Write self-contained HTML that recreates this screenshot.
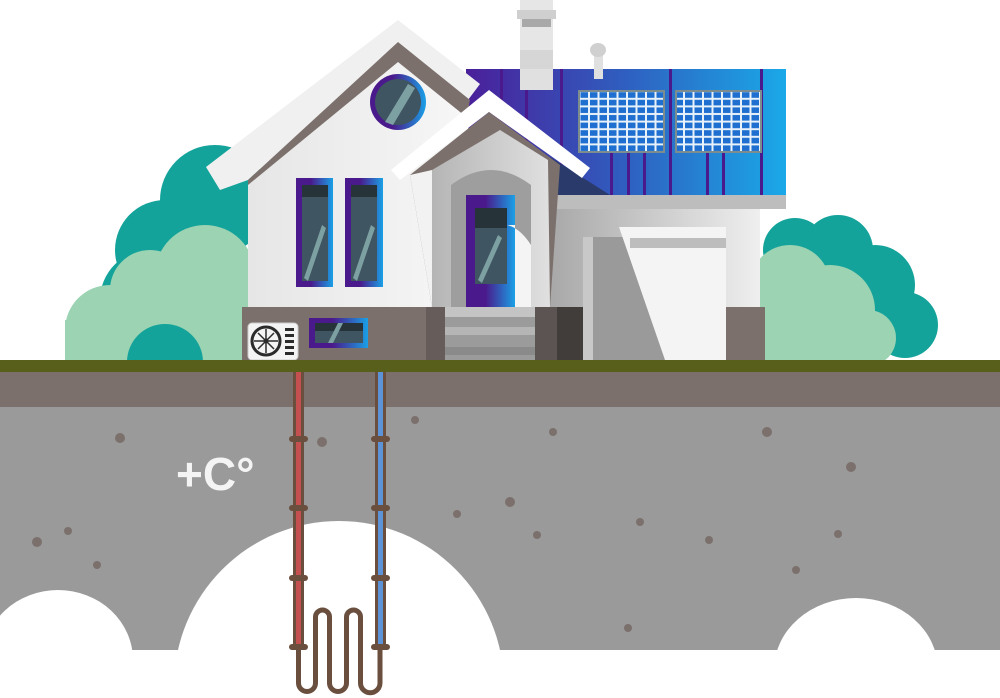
<!DOCTYPE html>
<html><head><style>html,body{margin:0;padding:0;background:#fff;width:1000px;height:698px;overflow:hidden}svg{display:block}</style></head>
<body>
<svg width="1000" height="698" viewBox="0 0 1000 698" xmlns="http://www.w3.org/2000/svg">
<defs>
<linearGradient id="roof" x1="0" x2="1"><stop offset="0" stop-color="#4a1f9a"/><stop offset="0.5" stop-color="#2f5fc0"/><stop offset="1" stop-color="#1aa9e8"/></linearGradient>
<linearGradient id="frame" x1="0" x2="1"><stop offset="0.4" stop-color="#4a1a8c"/><stop offset="1" stop-color="#1aa0e6"/></linearGradient>
<linearGradient id="wall" x1="0" x2="1"><stop offset="0" stop-color="#e6e6e6"/><stop offset="1" stop-color="#f7f7f7"/></linearGradient>
<linearGradient id="front" x1="0" x2="1"><stop offset="0" stop-color="#b5b5b5"/><stop offset="1" stop-color="#e0e0e0"/></linearGradient>
<linearGradient id="rw" x1="0" x2="1"><stop offset="0" stop-color="#a8a8a8"/><stop offset="1" stop-color="#efefef"/></linearGradient>
<pattern id="cells" width="9.5" height="7.6" patternUnits="userSpaceOnUse"><rect width="9.5" height="7.6" fill="#e8f2fa"/><rect x="1" y="1" width="7.5" height="5.6" fill="#1e6fd0"/></pattern>
</defs>
<!-- trees -->
<g fill="#14a39a">
<circle cx="215" cy="200" r="55"/><circle cx="165" cy="250" r="50"/><circle cx="150" cy="300" r="50"/>
<circle cx="795" cy="250" r="32"/><circle cx="838" cy="250" r="35"/><circle cx="875" cy="285" r="40"/><circle cx="905" cy="325" r="33"/><circle cx="830" cy="320" r="45"/>
</g>
<g fill="#9bd3b3">
<circle cx="110" cy="330" r="45"/><circle cx="150" cy="290" r="40"/><circle cx="205" cy="275" r="50"/><circle cx="200" cy="310" r="50"/><rect x="65" y="320" width="185" height="42"/>
<circle cx="790" cy="285" r="40"/><circle cx="830" cy="310" r="45"/><circle cx="868" cy="338" r="28"/><rect x="758" y="300" width="110" height="62"/>
</g>
<circle cx="165" cy="362" r="38" fill="#14a39a"/>
<!-- chimney and vent -->
<rect x="520" y="0" width="33" height="90" fill="#e6e6e6"/><rect x="520" y="50" width="33" height="40" fill="#d6d6d6"/>
<rect x="517" y="10" width="39" height="9" fill="#cfcfcf"/><rect x="522" y="19" width="29" height="8" fill="#a9a9a9"/>
<rect x="594" y="55" width="9" height="24" fill="#e0e0e0"/><ellipse cx="598" cy="50" rx="8" ry="7" fill="#d0d0d0"/>
<!-- blue roof -->
<rect x="466" y="69" width="320" height="126" fill="url(#roof)"/>
<rect x="520" y="69" width="33" height="21" fill="#e0e0e0"/><rect x="594" y="69" width="9" height="10" fill="#e0e0e0"/>
<g fill="#4a1a8c">
<rect x="500" y="69" width="3" height="126"/><rect x="525" y="90" width="3" height="105"/><rect x="560" y="69" width="3" height="126"/>
<rect x="610" y="153" width="3" height="42"/><rect x="627" y="153" width="3" height="42"/><rect x="643" y="153" width="3" height="42"/>
<rect x="669" y="69" width="3" height="126"/><rect x="706" y="153" width="3" height="42"/><rect x="722" y="153" width="3" height="42"/><rect x="760" y="69" width="3" height="126"/>
</g>
<polygon points="550,157 610,195 550,195" fill="#2a3a6a"/>
<rect x="578" y="90" width="87" height="63" fill="#7d8c8c"/><rect x="580" y="92" width="83" height="59" fill="url(#cells)"/>
<rect x="675" y="90" width="87" height="63" fill="#7d8c8c"/><rect x="677" y="92" width="83" height="59" fill="url(#cells)"/>
<!-- right wing -->
<rect x="550" y="195" width="210" height="112" fill="url(#rw)"/>
<rect x="550" y="195" width="236" height="14" fill="#bdbdbd"/>
<rect x="583" y="237" width="143" height="123" fill="#9a9a9a"/>
<rect x="583" y="237" width="10" height="123" fill="#c8c8c8"/>
<polygon points="619,227 726,227 726,360 665,360" fill="#f4f4f4"/>
<rect x="630" y="238" width="96" height="10" fill="#bdbdbd"/>
<rect x="726" y="307" width="39" height="53" fill="#7b706c"/>
<!-- main gable -->
<polygon points="206,167 398,20 480,84 468,100 398,42 248,180 220,190" fill="#f0f0f0"/>
<polygon points="248,180 398,42 470,100 432,307 248,307" fill="#7b706c"/>
<polygon points="248,185 398,62 470,120 432,307 248,307" fill="url(#wall)"/>
<circle cx="398" cy="102" r="28" fill="url(#frame)"/><circle cx="398" cy="102" r="23" fill="#3f5561"/>
<polygon points="385,122 408,84 415,88 393,125" fill="#7da0a3"/>
<!-- windows -->
<g>
<rect x="296" y="178" width="37" height="109" fill="url(#frame)"/><rect x="302" y="185" width="26" height="96" fill="#3f5561"/><rect x="302" y="185" width="26" height="12" fill="#26343a"/>
<polygon points="304,278 322,225 326,228 308,281" fill="#7da0a3"/>
<rect x="345" y="178" width="38" height="109" fill="url(#frame)"/><rect x="351" y="185" width="26" height="96" fill="#3f5561"/><rect x="351" y="185" width="26" height="12" fill="#26343a"/>
<polygon points="353,278 371,225 375,228 357,281" fill="#7da0a3"/>
</g>
<!-- front gable -->
<polygon points="391,170 489,90 590,168 582,178 489,112 400,180" fill="#ffffff"/>
<polygon points="410,175 489,112 560,165 550,307 432,307" fill="#7b706c"/>
<polygon points="432,170 500,130 548,160 550,307 432,307" fill="url(#front)"/>
<polygon points="410,175 432,170 432,307" fill="#f2f2f2"/>
<path d="M451,307 V185 Q491,155 531,185 V307 Z" fill="#9e9e9e"/>
<rect x="466" y="195" width="49" height="112" fill="url(#frame)"/>
<rect x="475" y="208" width="32" height="76" fill="#3f5561"/><rect x="475" y="208" width="32" height="20" fill="#26343a"/>
<path d="M507,225 Q520,228 531,245 V307 H515 V225 Z" fill="#f4f4f4"/>
<polygon points="478,280 498,235 502,238 482,283" fill="#7da0a3"/>
<!-- foundation -->
<rect x="242" y="307" width="185" height="53" fill="#7b706c"/>
<rect x="426" y="307" width="19" height="53" fill="#665d5a"/>
<rect x="445" y="307" width="90" height="53" fill="#9b9b9b"/>
<rect x="445" y="307" width="90" height="10" fill="#c4c4c4"/><rect x="445" y="327" width="90" height="8" fill="#b5b5b5"/><rect x="445" y="347" width="90" height="8" fill="#8a8a8a"/>
<rect x="535" y="307" width="22" height="53" fill="#5c5452"/><rect x="557" y="307" width="26" height="53" fill="#403d3a"/>
<!-- AC -->
<rect x="248" y="323" width="50" height="37" rx="4" fill="#f4f4f4" stroke="#ccc"/>
<circle cx="266" cy="341" r="14" fill="none" stroke="#2b2b2b" stroke-width="3"/>
<g stroke="#2b2b2b" stroke-width="1.5"><line x1="266" y1="329" x2="266" y2="353"/><line x1="254" y1="341" x2="278" y2="341"/><line x1="258" y1="333" x2="274" y2="349"/><line x1="274" y1="333" x2="258" y2="349"/></g>
<circle cx="266" cy="341" r="2.5" fill="#2b2b2b"/>
<g fill="#2b2b2b"><rect x="285" y="328" width="9" height="3"/><rect x="285" y="334" width="9" height="3"/><rect x="285" y="340" width="9" height="3"/><rect x="285" y="346" width="9" height="3"/><rect x="285" y="352" width="9" height="3"/></g>
<rect x="309" y="318" width="59" height="30" fill="url(#frame)"/><rect x="315" y="323" width="48" height="20" fill="#3f5561"/><rect x="315" y="323" width="48" height="8" fill="#26343a"/>
<polygon points="328,343 338,323 343,323 333,343" fill="#7da0a3"/>
<!-- ground -->
<rect x="0" y="360" width="1000" height="12" fill="#585f1a"/>
<rect x="0" y="372" width="1000" height="36" fill="#7b706c"/>
<rect x="0" y="407" width="1000" height="243" fill="#9a9a9a"/>
<rect x="0" y="650" width="1000" height="48" fill="#fff"/>
<circle cx="339" cy="686" r="165" fill="#fff"/>
<ellipse cx="58" cy="660" rx="75" ry="70" fill="#fff"/>
<ellipse cx="856" cy="670" rx="82" ry="72" fill="#fff"/>
<g fill="#7b706c">
<circle cx="120" cy="438" r="5"/><circle cx="322" cy="442" r="5"/><circle cx="415" cy="420" r="4"/><circle cx="553" cy="432" r="4"/><circle cx="767" cy="432" r="5"/><circle cx="851" cy="467" r="5"/><circle cx="510" cy="502" r="5"/><circle cx="457" cy="514" r="4"/><circle cx="537" cy="535" r="4"/><circle cx="640" cy="522" r="4"/><circle cx="709" cy="540" r="4"/><circle cx="838" cy="534" r="4"/><circle cx="68" cy="531" r="4"/><circle cx="37" cy="542" r="5"/><circle cx="97" cy="565" r="4"/><circle cx="796" cy="570" r="4"/><circle cx="628" cy="628" r="4"/>
</g>
<text x="176" y="490" font-family="Liberation Sans, sans-serif" font-weight="bold" font-size="46" fill="#f4f4f4">+C°</text>
<!-- pipes -->
<rect x="293" y="372" width="11" height="278" fill="#6a4f3f"/><rect x="296" y="372" width="5" height="278" fill="#c4504f"/>
<rect x="375" y="372" width="11" height="278" fill="#6a4f3f"/><rect x="378" y="372" width="5" height="278" fill="#5c93d8"/>
<g fill="#6a4f3f">
<rect x="289" y="436" width="19" height="6" rx="3"/><rect x="371" y="436" width="19" height="6" rx="3"/>
<rect x="289" y="505" width="19" height="6" rx="3"/><rect x="371" y="505" width="19" height="6" rx="3"/>
<rect x="289" y="575" width="19" height="6" rx="3"/><rect x="371" y="575" width="19" height="6" rx="3"/>
<rect x="289" y="644" width="19" height="6" rx="3"/><rect x="371" y="644" width="19" height="6" rx="3"/>
</g>
<path d="M298.5,648 V683 A8.5,8.5 0 0 0 315.5,683 V617 A7,7 0 0 1 329.5,617 V683 A8.5,8.5 0 0 0 346.5,683 V617 A7,7 0 0 1 360.5,617 V683 A9.75,9.75 0 0 0 380,683 V648" fill="none" stroke="#6a4f3f" stroke-width="5"/>
</svg>
</body></html>
